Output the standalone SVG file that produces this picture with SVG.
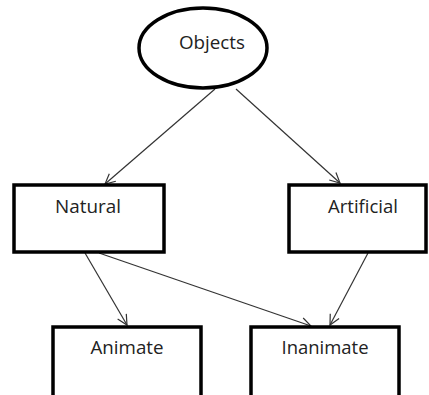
<svg xmlns="http://www.w3.org/2000/svg" width="429" height="395" viewBox="0 0 429 395">
<style>
.node{fill:#fff;stroke:#000;stroke-width:3.5}
.lbl{font-family:"Open Sans","Liberation Sans",sans-serif;font-size:18px;fill:#222;text-anchor:middle}
.edge{stroke:#333;stroke-width:1.2;fill:none;marker-end:url(#arr)}
</style>
<defs>
<marker id="arr" viewBox="0 0 12 12" refX="11" refY="6" markerWidth="12" markerHeight="12" markerUnits="userSpaceOnUse" orient="auto">
<path d="M1,1 L11,6 L1,11" fill="none" stroke="#333" stroke-width="1.2"/>
</marker>
</defs>
<rect width="429" height="395" fill="#fff"/>
<g id="connectors">
<line class="edge" x1="215" y1="89" x2="105" y2="184"/>
<line class="edge" x1="236" y1="89" x2="340" y2="183"/>
<line class="edge" x1="85" y1="253" x2="127" y2="325"/>
<line class="edge" x1="99" y1="253" x2="311" y2="326"/>
<line class="edge" x1="368" y1="253" x2="330" y2="325"/>
</g>
<g id="objects">
<ellipse class="node" cx="203" cy="48" rx="64" ry="40"/>
<text class="lbl" x="212" y="49" textLength="66" lengthAdjust="spacingAndGlyphs">Objects</text>
</g>
<g id="natural">
<rect class="node" x="14" y="185" width="150" height="67"/>
<text class="lbl" x="88" y="213" textLength="66" lengthAdjust="spacingAndGlyphs">Natural</text>
</g>
<g id="artificial">
<rect class="node" x="289" y="185" width="137" height="67"/>
<text class="lbl" x="363" y="213" textLength="70" lengthAdjust="spacingAndGlyphs">Artificial</text>
</g>
<g id="animate">
<rect class="node" x="53" y="327" width="148" height="72"/>
<text class="lbl" x="127" y="354" textLength="73" lengthAdjust="spacingAndGlyphs">Animate</text>
</g>
<g id="inanimate">
<rect class="node" x="251" y="327" width="148" height="72"/>
<text class="lbl" x="325" y="354" textLength="87" lengthAdjust="spacingAndGlyphs">Inanimate</text>
</g>
</svg>
